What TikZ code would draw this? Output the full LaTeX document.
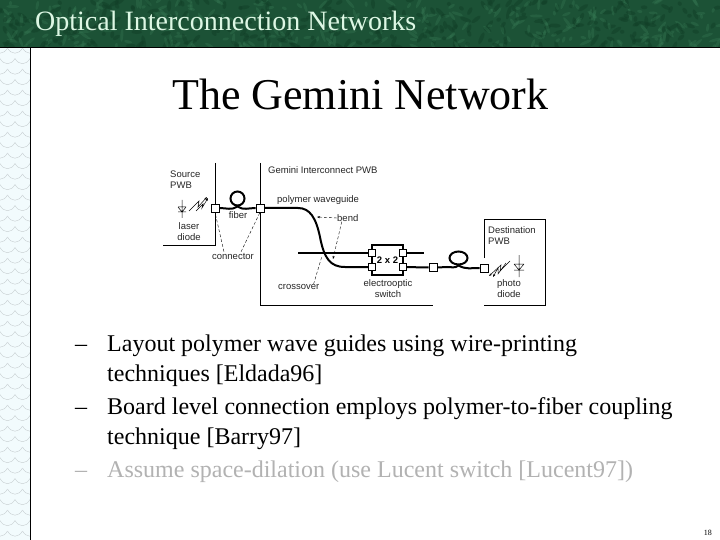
\documentclass[tikz,border=0pt]{standalone}
\usepackage{fontspec}
\setmainfont{Liberation Serif}
\newfontfamily\labelfont{Liberation Sans}
\usetikzlibrary{arrows.meta, positioning, shapes.geometric}

\definecolor{headGreen}{HTML}{1C5236}
\definecolor{headLight}{HTML}{3A8059}
\definecolor{headDark}{HTML}{123F28}
\definecolor{headText}{HTML}{DDF7E4}
\definecolor{stripBlue}{HTML}{F2FBFD}
\definecolor{stripLine}{HTML}{C6CDD0}
\definecolor{fadedText}{HTML}{B2B2B2}

\tikzset{
    connbox/.style={draw, line width=0.7pt, fill=white, minimum size=8pt, inner sep=0pt},
    smallbox/.style={draw, line width=0.7pt, fill=white, minimum size=7pt, inner sep=0pt},
    guide/.style={line width=2pt},
    wall/.style={line width=0.9pt},
    leader/.style={densely dashed, line width=0.4pt},
    tag/.style={font=\labelfont\fontsize{9.5}{11}\selectfont, text=black!85, inner sep=0pt, align=center},
    bullet/.style={anchor=base west, inner sep=0pt, font=\fontsize{24}{26}\selectfont}
}

\begin{document}
\begin{tikzpicture}[x=1pt, y=-1pt]
    \useasboundingbox (0,0) rectangle (720,540);
    \fill[white] (0,0) rectangle (720,540);

    % Left strip with scales
    \fill[stripBlue] (0,48) rectangle (30,540);
    \begin{scope}
        \clip (0,48) rectangle (30,540);
        \foreach \row in {0,...,50} {
            \foreach \col in {0,1,2} {
                \pgfmathsetmacro{\xa}{\col*15+mod(\row,2)*7.5-7.5}
                \pgfmathsetmacro{\ya}{48+\row*10.5}
                \draw[stripLine, line width=0.4pt] (\xa,\ya) .. controls (\xa+4,\ya+7) and (\xa+11,\ya+7) .. (\xa+15,\ya);
            }
        }
    \end{scope}
    \draw[line width=1pt] (30,48) -- (30,540);

    % Header band
    \fill[headGreen] (0,0) rectangle (720,48);
    \begin{scope}
        \clip (0,0) rectangle (720,48);
        \pgfmathsetseed{18}
        \foreach \i in {1,...,600} {
            \pgfmathsetmacro{\xa}{rnd*720}
            \pgfmathsetmacro{\ya}{rnd*48}
            \pgfmathsetmacro{\ang}{rnd*180}
            \pgfmathsetmacro{\rad}{2+rnd*5}
            \pgfmathtruncatemacro{\tone}{mod(\i,2)}
            \ifnum\tone=0
                \fill[headLight, opacity=0.3, rotate around={\ang:(\xa,\ya)}] (\xa,\ya) ellipse ({\rad} and 1.5);
            \else
                \fill[headDark, opacity=0.5, rotate around={\ang:(\xa,\ya)}] (\xa,\ya) ellipse ({\rad} and 2);
            \fi
        }
    \end{scope}
    \draw[line width=1pt] (0,48) -- (720,48);

    % Titles
    \node[anchor=base west, inner sep=0pt, text=headText, font=\fontsize{28}{30}\selectfont] (header) at (35,31) {Optical Interconnection Networks};
    \node[anchor=base west, inner sep=0pt, font=\fontsize{44}{46}\selectfont] (title) at (172,110) {The Gemini Network};

    % Board outlines
    \coordinate (srcTop) at (215,163);
    \coordinate (srcCorner) at (215,245);
    \coordinate (srcEnd) at (163,245);
    \coordinate (gemTop) at (260,163);
    \coordinate (gemCorner) at (260,305);
    \coordinate (gemEnd) at (433,305);
    \draw[wall] (srcTop) -- (srcCorner) -- (srcEnd);
    \draw[wall] (gemTop) -- (gemCorner) -- (gemEnd);
    \draw[wall] (484,258) -- (484,219) -- (545,219) -- (545,305) -- (484,305);

    % Switch and connectors
    \node[draw, line width=2.4pt, minimum width=31pt, minimum height=30pt, inner sep=0pt, font=\labelfont\bfseries\fontsize{9.5}{11}\selectfont] (switch) at (387.5,260) {2 x 2};
    \node[connbox] (connA) at (215,208) {};
    \node[connbox] (connB) at (260,208) {};
    \node[connbox] (connC) at (433,267.5) {};
    \node[connbox] (connD) at (484,268) {};
    \coordinate (crossEnd) at (298,253);
    \coordinate (crossOut) at (424,253);

    % Fiber loops
    \node[circle, draw, guide, minimum size=14pt, inner sep=0pt] (loopA) at (237.5,198.5) {};
    \node[ellipse, draw, guide, minimum width=18pt, minimum height=13pt, inner sep=0pt] (loopB) at (458.5,258) {};

    % Waveguides
    \draw[guide] (connA.east) to[out=0, in=215] (loopA.south) to[out=-35, in=180] (connB.west);
    \draw[line width=1.4pt] (crossEnd) -- (372,253);
    \draw[guide] (connB.east) -- (298,208) .. controls (310,208) and (316,218) .. (320,237) .. controls (324,258) and (330,267) .. (345,267) -- (372,267);
    \draw[line width=1.4pt] (403,253) -- (crossOut);
    \draw[guide] (403,267) -- (connC.west);
    \draw[guide] (connC.east) -- (447,267) to[out=0, in=220] (loopB.south) to[out=-30, in=180] (connD.west);
    \node[smallbox] (portA) at (372,253) {};
    \node[smallbox] (portB) at (372,267) {};
    \node[smallbox] (portC) at (403,253) {};
    \node[smallbox] (portD) at (403,267) {};

    % Laser diode symbol
    \draw[line width=0.5pt] (182,200) -- (182,218) (178,207) -- (186,207) (178,207) -- (182,212) -- (186,207) (178,212) -- (186,212);
    \draw[line width=0.5pt, -{Stealth[length=3pt]}] (189,211) -- (199,201) -- (198,207) -- (207,197);
    \draw[line width=0.5pt, -{Stealth[length=3pt]}] (196,211) -- (203,204) -- (202,208) -- (208,198);

    % Photo diode symbol
    \draw[line width=0.5pt] (519,255) -- (519,277) (514,264) -- (524,264) (514,264) -- (519,270) -- (524,264) (514,270) -- (524,270);
    \draw[line width=0.5pt, -{Stealth[length=3pt]}] (510,261) -- (500,271) -- (501,265) -- (489,276);
    \draw[line width=0.5pt, -{Stealth[length=3pt]}] (506,263) -- (498,274) -- (498,268) -- (493,277);

    % Labels
    \node[tag, anchor=west, align=left] (srcLabel) at (170,180) {Source\\PWB};
    \node[tag] (laserLabel) at (189,232) {laser\\diode};
    \node[tag] (fiberLabel) at (238,215) {fiber};
    \node[tag] (connLabel) at (233,256) {connector};
    \node[tag, anchor=west] (gemLabel) at (268,170) {Gemini Interconnect PWB};
    \node[tag, anchor=west] (polyLabel) at (277,200) {polymer waveguide};
    \node[tag, anchor=west] (bendLabel) at (337,218) {bend};
    \node[tag, anchor=west] (crossLabel) at (278,287) {crossover};
    \node[tag] (switchLabel) at (388,289) {electrooptic\\switch};
    \node[tag, anchor=west, align=left] (destLabel) at (488,236) {Destination\\PWB};
    \node[tag] (photoLabel) at (509,288.5) {photo\\diode};

    % Leaders
    \coordinate (bendA) at (317,217);
    \coordinate (bendB) at (333,259);
    \coordinate (crossPt) at (322,256);
    \draw[leader] (connLabel.north west) ++(12,-1) -- (connA.south);
    \draw[leader] (connLabel.north east) ++(-13,-1) -- (connB.south);
    \draw[leader, -{Stealth[length=3pt]}] (bendLabel.west) -- (bendA);
    \draw[leader, -{Stealth[length=3pt]}] (bendLabel.south) ++(-6,0) -- (bendB);
    \draw[leader] (crossLabel.north east) ++(-6,0) -- (crossPt);

    % Bullet list
    \node[bullet] (dashA) at (75,351) {--};
    \node[bullet] (itemA) at (107,351) {Layout polymer wave guides using wire-printing};
    \node[bullet] (itemAb) at (107,381) {techniques [Eldada96]};
    \node[bullet] (dashB) at (75,414) {--};
    \node[bullet] (itemB) at (107,414) {Board level connection employs polymer-to-fiber coupling};
    \node[bullet] (itemBb) at (107,444) {technique [Barry97]};
    \node[bullet, text=fadedText] (dashC) at (75,477) {--};
    \node[bullet, text=fadedText] (itemC) at (107,477) {Assume space-dilation (use Lucent switch [Lucent97])};

    % Slide number
    \node[anchor=base east, inner sep=0pt, font=\fontsize{8}{9}\selectfont] (pageNo) at (712,535) {18};
\end{tikzpicture}
\end{document}
